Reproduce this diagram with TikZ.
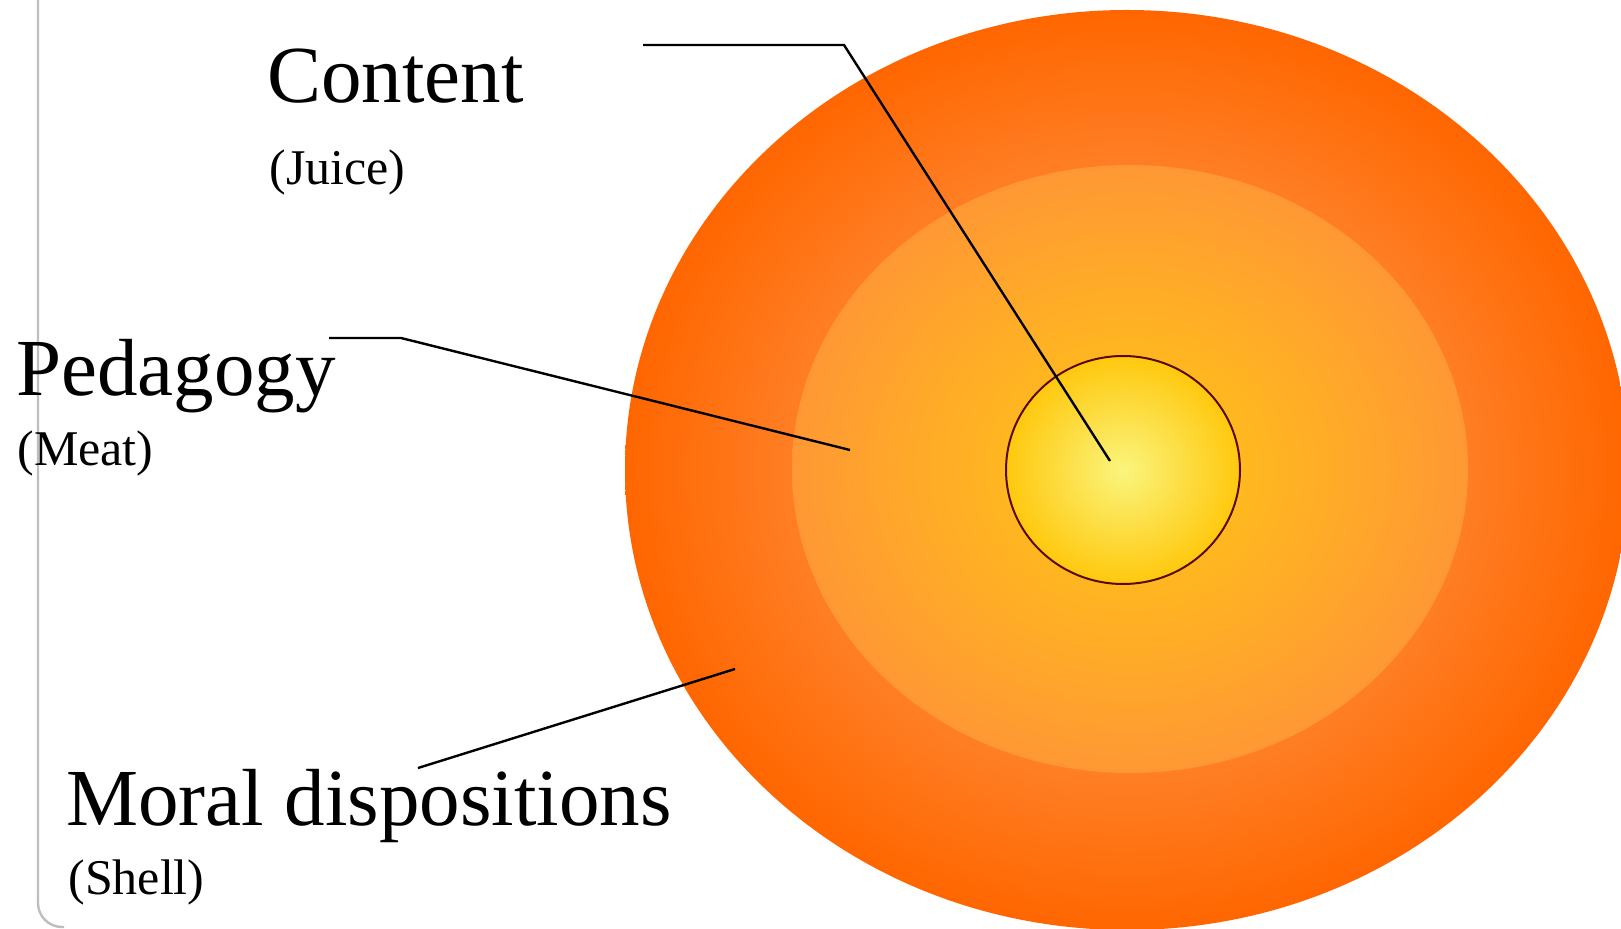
\documentclass[tikz,border=0pt]{standalone}
\usepackage{fontspec}
\setmainfont{Liberation Serif}
\definecolor{shellA}{RGB}{255,102,0}
\definecolor{shellB}{RGB}{255,175,110}
\definecolor{meatA}{RGB}{255,152,52}
\definecolor{meatB}{RGB}{255,200,20}
\definecolor{juiceA}{RGB}{250,245,125}
\definecolor{juiceB}{RGB}{255,200,14}
\definecolor{rimc}{RGB}{90,10,5}
\definecolor{framec}{RGB}{190,190,190}
\tikzset{
  big/.style={anchor=base west,inner sep=0pt,font=\fontsize{40.5}{48}\selectfont},
  small/.style={anchor=base west,inner sep=0pt,font=\fontsize{25}{30}\selectfont},
  leader/.style={draw=black,line width=1.2pt,line join=miter},
}
\begin{document}
\begin{tikzpicture}[x=0.5pt,y=-0.5pt]
\useasboundingbox (0,0) rectangle (1621,929);
\clip (0,0) rectangle (1621,929);
\fill[white] (0,0) rectangle (1621,929);
% frame
\draw[framec,line width=1.2pt,rounded corners=12pt] (38,-5) -- (38,927) -- (64,927);
% shell
\path[inner color=shellB,outer color=shellA] (1127,470) ellipse[x radius=502,y radius=460];
% meat
\path[inner color=meatB,outer color=meatA] (1130,469) ellipse[x radius=338,y radius=304];
% juice
\path[inner color=juiceA,outer color=juiceB] (1123,470) ellipse[x radius=117,y radius=114];
\draw[rimc,line width=1pt] (1123,470) ellipse[x radius=117,y radius=114];
% labels
\node[big] (content) at (267,103) {Content};
\node[small] (juice) at (269,185) {(Juice)};
\node[big] (pedagogy) at (16,396) {Pedagogy};
\node[small] (meat) at (17,466) {(Meat)};
\node[big] (moral) at (66,825) {Moral dispositions};
\node[small] (shell) at (68,894) {(Shell)};
% leader points
\coordinate (c0) at (643,45);
\coordinate (c1) at (844,45);
\coordinate (c2) at (1110,461);
\coordinate (p0) at (329,338);
\coordinate (p1) at (401,338);
\coordinate (p2) at (850,450);
\coordinate (m0) at (418,768);
\coordinate (m1) at (735,669);
\draw[leader] (c0) -- (c1) -- (c2);
\draw[leader] (p0) -- (p1) -- (p2);
\draw[leader] (m0) -- (m1);
\end{tikzpicture}
\end{document}
